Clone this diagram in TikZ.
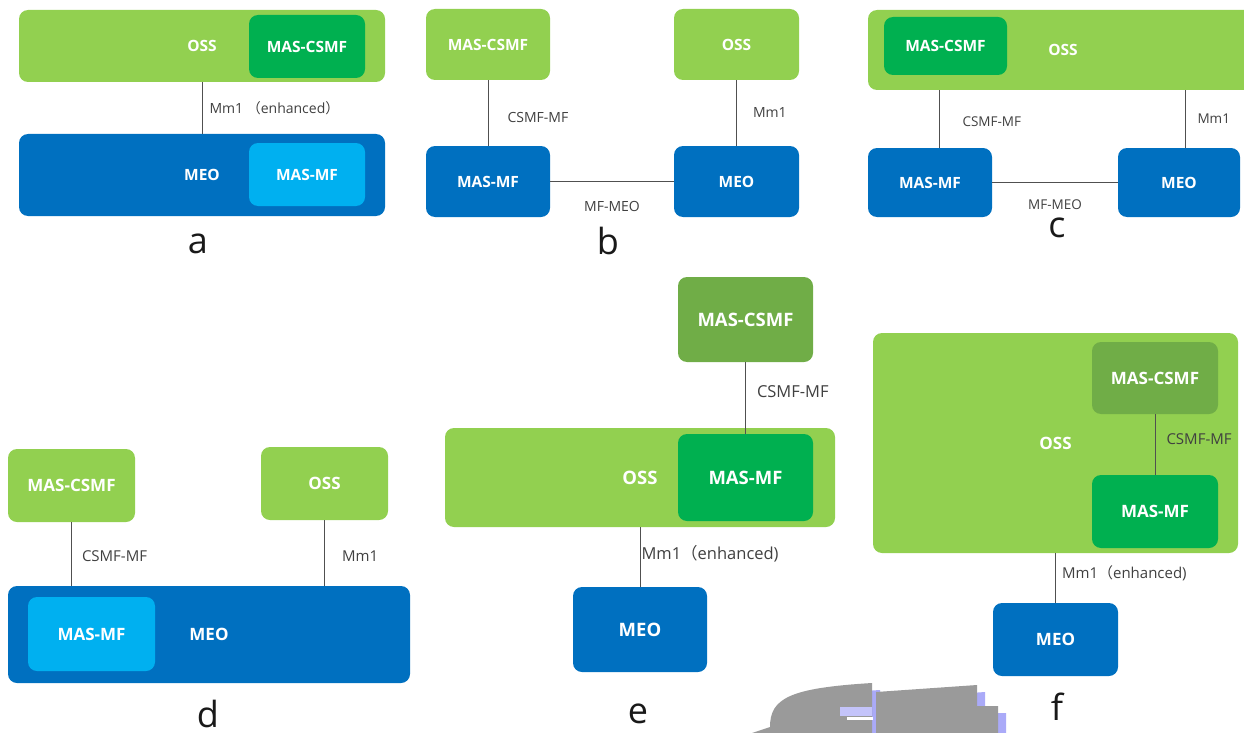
\documentclass[tikz,border=0pt]{standalone}
\usepackage{fontspec}
\setmainfont{Open Sans}
\newfontfamily\cjk{Noto Sans CJK SC}
\usetikzlibrary{positioning}
\definecolor{lgreen}{HTML}{92D050}
\definecolor{mgreen}{HTML}{00B050}
\definecolor{ogreen}{HTML}{70AD47}
\definecolor{dblue}{HTML}{0070C0}
\definecolor{lblue}{HTML}{00B0F0}
\definecolor{linegray}{HTML}{505050}
\definecolor{txtgray}{HTML}{404040}
\definecolor{blotgray}{HTML}{9A9A9A}
\definecolor{blotblue}{HTML}{AAAAF8}

\begin{document}
\begin{tikzpicture}[x=1pt, y=-1pt,
    box/.style={rectangle, rounded corners=9pt, inner sep=0pt, text=white, font=\fontsize{#1}{#1}\selectfont\bfseries},
    lbl/.style={text=txtgray, inner sep=1pt, font=\fontsize{#1}{#1}\selectfont},
    link/.style={draw=linegray, line width=1pt},
    sublabel/.style={text=black!90, inner sep=0pt, font=\fontsize{36}{36}\selectfont}]
    \useasboundingbox (0,0) rectangle (1244,733);
    \clip (0,0) rectangle (1244,733);

    % a: MAS-CSMF dentro de OSS, MAS-MF dentro de MEO
    \node [box=15.5, fill=lgreen, minimum width=366, minimum height=72] (ossA) at (202,46) {OSS};
    \node [box=15.5, fill=mgreen, minimum width=116, minimum height=63] (csmfA) at (307,46.5) {MAS-CSMF};
    \node [box=15.5, fill=dblue, minimum width=366, minimum height=82] (meoA) at (202,175) {MEO};
    \node [box=15.5, fill=lblue, minimum width=116, minimum height=63] (mfA) at (307,174.5) {MAS-MF};
    \draw[link] (ossA) -- (meoA) node[midway, lbl=14, right=6pt] {Mm1 {\cjk （}enhanced{\cjk ）}};
    \node [sublabel] (subA) at (198,244) {a};

    % b: cuatro nodos separados
    \node [box=15.5, fill=lgreen, minimum width=124, minimum height=71] (csmfB) at (488,44.5) {MAS-CSMF};
    \node [box=15.5, fill=lgreen, minimum width=125, minimum height=71] (ossB) at (736.5,44.5) {OSS};
    \node [box=15.5, fill=dblue, minimum width=124, minimum height=71] (mfB) at (488,181.5) {MAS-MF};
    \node [box=15.5, fill=dblue, minimum width=125, minimum height=71] (meoB) at (736.5,181.5) {MEO};
    \draw[link] (csmfB) -- (mfB) node[midway, lbl=14, right=18pt, yshift=-4pt] {CSMF-MF};
    \draw[link] (ossB) -- (meoB) node[midway, lbl=14, right=15pt] {Mm1};
    \draw[link] (mfB) -- (meoB) node[midway, lbl=14, below=18pt] {MF-MEO};
    \node [sublabel] (subB) at (608,241) {b};

    % c: MAS-CSMF dentro de OSS
    \node [box=15.5, fill=lgreen, minimum width=390, minimum height=80] (ossC) at (1063,50) {OSS};
    \node [box=15.5, fill=mgreen, minimum width=123, minimum height=58] (csmfC) at (945.5,46) {MAS-CSMF};
    \node [box=15.5, fill=dblue, minimum width=124, minimum height=69] (mfC) at (930,182.5) {MAS-MF};
    \node [box=15.5, fill=dblue, minimum width=122, minimum height=69] (meoC) at (1179,182.5) {MEO};
    \coordinate (tapmfC) at ([xshift=9pt]mfC.north);
    \coordinate (tapmeoC) at ([xshift=6pt]meoC.north);
    \draw[link] (tapmfC |- ossC.south) -- (tapmfC) node[midway, lbl=13.5, right=22pt, yshift=-3pt] {CSMF-MF};
    \draw[link] (tapmeoC |- ossC.south) -- (tapmeoC) node[midway, lbl=13.5, right=11pt] {Mm1};
    \draw[link] (mfC) -- (meoC) node[midway, lbl=13.5, below=16pt] {MF-MEO};
    \node [sublabel] (subC) at (1057,228) {c};

    % d: MAS-MF dentro de MEO
    \node [box=17, fill=lgreen, minimum width=127, minimum height=73] (csmfD) at (71.5,485.5) {MAS-CSMF};
    \node [box=17, fill=lgreen, minimum width=127, minimum height=73] (ossD) at (324.5,483.5) {OSS};
    \node [box=17, fill=dblue, minimum width=402, minimum height=97] (meoD) at (209,634.5) {MEO};
    \node [box=17, fill=lblue, minimum width=127, minimum height=74] (mfD) at (91.5,634) {MAS-MF};
    \draw[link] (csmfD) -- (csmfD |- meoD.north) node[midway, lbl=15, right=9pt, yshift=-2pt] {CSMF-MF};
    \draw[link] (ossD) -- (ossD |- meoD.north) node[midway, lbl=15, right=16pt, yshift=-3pt] {Mm1};
    \node [sublabel] (subD) at (208,714) {d};

    % e: MAS-MF dentro de OSS
    \node [box=18.5, fill=ogreen, minimum width=135, minimum height=85] (csmfE) at (745.5,319.5) {MAS-CSMF};
    \node [box=18.5, fill=lgreen, minimum width=390, minimum height=99] (ossE) at (640,477.5) {OSS};
    \node [box=18.5, fill=mgreen, minimum width=135, minimum height=87] (mfE) at (745.5,477.5) {MAS-MF};
    \node [box=18.5, fill=dblue, minimum width=134, minimum height=85] (meoE) at (640,629.5) {MEO};
    \draw[link] (csmfE) -- (mfE) node[midway, lbl=16.5, right=10pt, yshift=6pt] {CSMF-MF};
    \draw[link] (ossE) -- (meoE) node[midway, lbl=16.5, right=0pt, yshift=3pt] {Mm1{\cjk （}enhanced)};
    \node [sublabel] (subE) at (638,714) {e};

    % f: MAS-CSMF y MAS-MF dentro de OSS
    \node [box=17, fill=lgreen, minimum width=365, minimum height=220] (ossF) at (1055.5,443) {OSS};
    \node [box=17, fill=ogreen, minimum width=126, minimum height=72] (csmfF) at (1155,378) {MAS-CSMF};
    \node [box=17, fill=mgreen, minimum width=126, minimum height=73] (mfF) at (1155,511.5) {MAS-MF};
    \node [box=17, fill=dblue, minimum width=125, minimum height=73] (meoF) at (1055.5,639.5) {MEO};
    \draw[link] (csmfF) -- (mfF) node[midway, lbl=15, right=10pt, yshift=5pt] {CSMF-MF};
    \draw[link] (ossF) -- (meoF) node[midway, lbl=15, right=5pt, yshift=5pt] {Mm1{\cjk （}enhanced)};
    \node [sublabel] (subF) at (1057,707) {f};

    % mancha gris abajo
    \foreach \dx/\dy/\col in {8/7/blotblue, 0/0/blotgray} {
        \fill[\col, shift={(\dx,\dy)}] (752,733) -- (770,727) .. controls (770,698) and (790,688) .. (872,683) -- (872,733) -- cycle;
        \fill[\col, shift={(\dx,\dy)}] (876,692) -- (977,685) -- (977,706) -- (998,706) -- (998,733) -- (876,733) -- cycle;
    }
    \fill[blotblue!70] (840,707) rectangle (872,716);
    \fill[white] (847,717) rectangle (873,720);
\end{tikzpicture}
\end{document}
